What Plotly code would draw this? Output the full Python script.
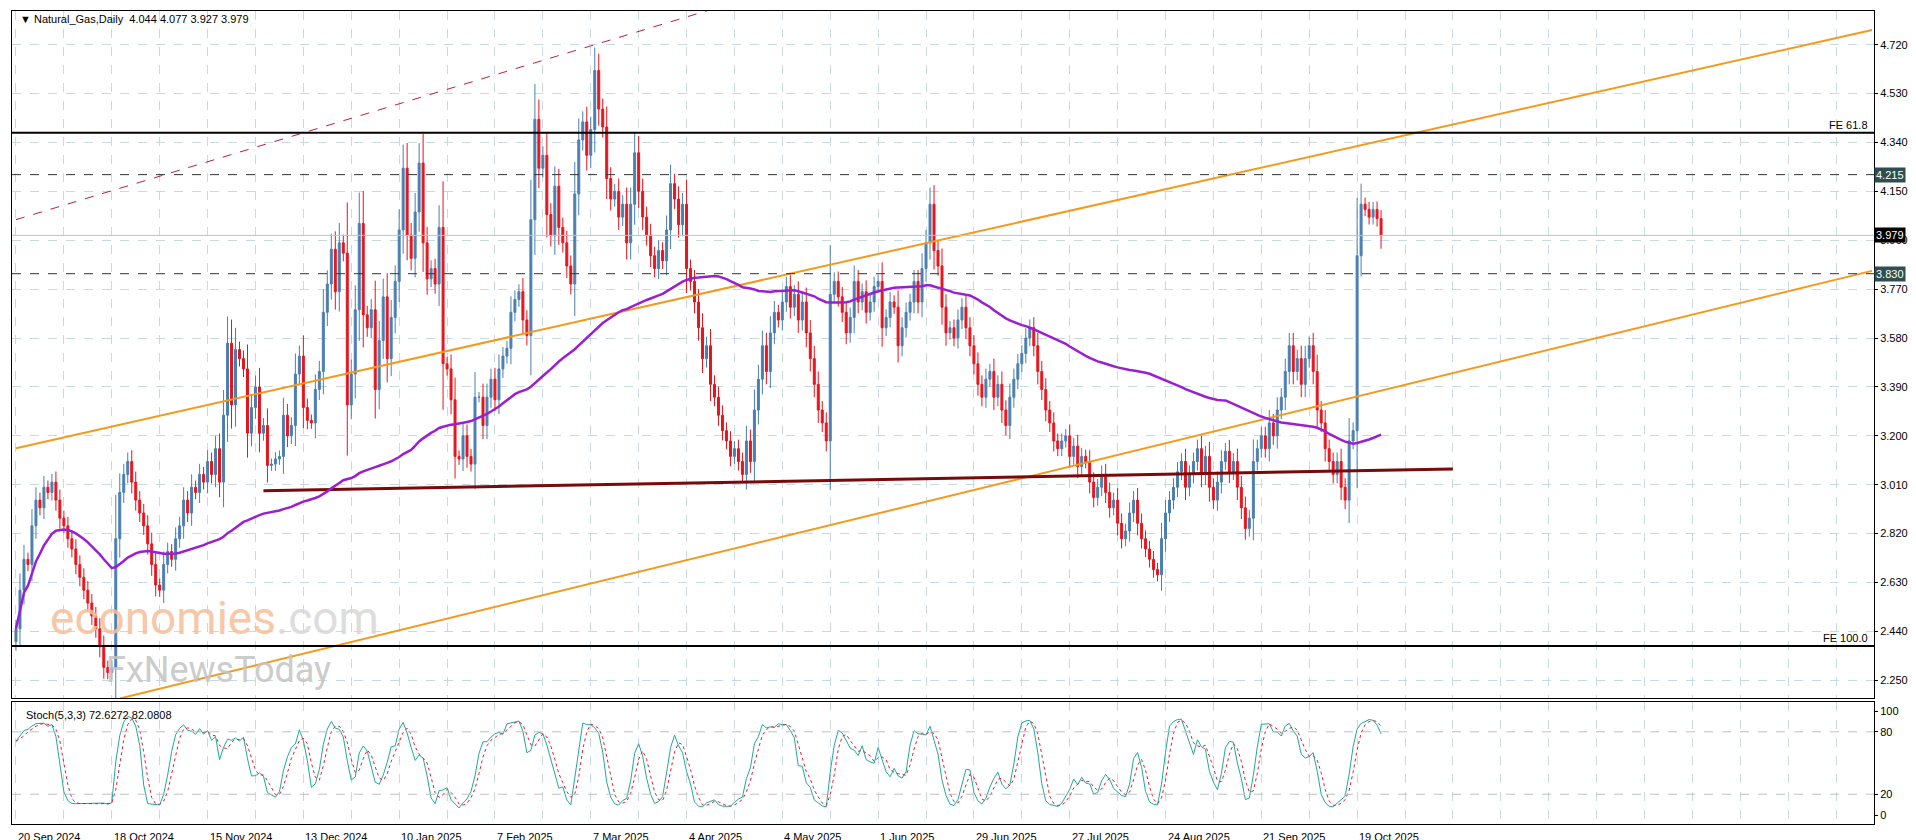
import pandas as pd
import plotly.graph_objects as go
from plotly.subplots import make_subplots

# daily closes (one per bar, Sunday bars included)
closes = [
    2.45, 2.60, 2.72, 2.70, 2.85, 2.95, 2.92, 3.00, 2.98, 3.02, 2.95, 2.88, 2.85,
    2.80, 2.76, 2.70, 2.65, 2.60, 2.55, 2.50, 2.45, 2.38, 2.30, 2.28, 2.30,
    2.80, 2.98, 3.05, 3.10, 3.02, 2.95, 2.90, 2.85, 2.78, 2.70, 2.62, 2.60, 2.70,
    2.75, 2.72, 2.80, 2.85, 2.95, 2.90, 3.00, 2.98, 3.05, 3.02, 3.10, 3.05, 3.15, 3.02,
    3.28, 3.56, 3.32, 3.535, 3.50, 3.46, 3.21, 3.31, 3.39, 3.21, 3.24, 3.085, 3.09,
    3.11, 3.12, 3.28, 3.20, 3.24, 3.44, 3.51, 3.31, 3.26, 3.25, 3.38, 3.45, 3.68,
    3.79, 3.925, 3.76, 3.95, 3.91, 3.32, 3.44, 3.69, 4.025, 3.67, 3.62, 3.69, 3.38,
    3.57, 3.74, 3.50, 3.66, 3.80, 4.00, 4.24,
    3.98, 3.89, 4.07, 4.26, 3.95, 3.81, 3.85, 3.79, 4.01, 3.48, 3.46, 3.34, 3.12,
    3.11, 3.20, 3.12, 3.09, 3.35, 3.35, 3.24, 3.35, 3.42, 3.34, 3.46, 3.51, 3.54,
    3.68, 3.73, 3.76, 3.65, 3.59, 4.04, 4.43, 4.24, 4.29, 4.06, 3.98, 4.17, 4.01,
    3.95, 3.86, 3.79, 4.14, 4.35, 4.42, 4.29, 4.39, 4.62, 4.47,
    4.40, 4.20, 4.12, 4.15, 4.05, 4.10, 3.95,
    4.10, 4.30, 4.15, 4.05, 3.98, 3.90, 3.85, 3.92, 3.88,
    4.00, 4.18, 4.12, 4.02, 4.10, 3.85, 3.80, 3.72,
    3.62, 3.50, 3.55, 3.40, 3.35, 3.28, 3.22, 3.18, 3.12,
    3.15, 3.10, 3.05, 3.18, 3.10, 3.30,
    3.42, 3.55, 3.45, 3.60, 3.68, 3.65, 3.72, 3.78, 3.70,
    3.75, 3.65, 3.72, 3.60, 3.50, 3.40, 3.30, 3.25, 3.18,
    3.75, 3.80, 3.74, 3.68, 3.60, 3.66, 3.80, 3.72, 3.76,
    3.68, 3.72, 3.78, 3.80, 3.62, 3.66, 3.72, 3.70, 3.55, 3.62, 3.68, 3.72,
    3.80, 3.72, 3.85, 3.95, 4.10, 3.92, 3.86, 3.70, 3.60,
    3.62, 3.58, 3.65, 3.70, 3.62, 3.55,
    3.48, 3.40, 3.35, 3.42, 3.45, 3.35, 3.40, 3.30, 3.24, 3.35, 3.42,
    3.48, 3.52, 3.58, 3.62, 3.55, 3.45, 3.38, 3.30, 3.25, 3.18, 3.15,
    3.18, 3.20, 3.12, 3.16, 3.08, 3.12, 3.10, 3.02, 2.96, 3.00, 3.05, 2.98,
    2.92, 2.95, 2.86, 2.80, 2.83, 2.90, 2.95, 2.86, 2.80, 2.76, 2.72, 2.68,
    2.66, 2.80, 2.90, 2.95, 3.00, 3.06, 3.10, 3.00, 3.05,
    3.10, 3.15, 3.05, 3.12, 3.00, 2.95, 3.02, 3.10, 3.14,
    3.06, 3.10, 3.00, 2.92, 2.84, 2.88, 3.10, 3.15, 3.20, 3.15,
    3.25, 3.20, 3.30, 3.35, 3.45, 3.55, 3.45, 3.50, 3.40,
    3.50, 3.55, 3.45, 3.30, 3.25, 3.15,
    3.10, 3.05, 3.10, 3.00, 2.95, 3.18,
    3.22, 3.90, 4.10, 4.08, 4.05, 4.08, 4.044, 3.979,
]
last_ohlc = [4.044, 4.077, 3.927, 3.979]

date_labels = ["20 Sep 2024", "18 Oct 2024", "15 Nov 2024", "13 Dec 2024", "10 Jan 2025",
               "7 Feb 2025", "7 Mar 2025", "4 Apr 2025", "4 May 2025", "1 Jun 2025",
               "29 Jun 2025", "27 Jul 2025", "24 Aug 2025", "21 Sep 2025", "19 Oct 2025"]
bars_per_label = 24

price_ticks = [2.25, 2.44, 2.63, 2.82, 3.01, 3.20, 3.39, 3.58, 3.77, 3.96, 4.15, 4.34, 4.53, 4.72]

# drawn objects: (bar, price) anchors
red_trend = [(0, 4.04), (145, 4.72)]
upper_channel = [(0, 3.152), (465, 4.777)]
lower_channel = [(26, 2.179), (465, 3.841)]
support_line = [(62, 2.986), (360, 3.071)]
fe_levels = {"FE 61.8": 4.378, "FE 100.0": 2.383}
dashed_levels = [4.215, 3.830]

n = len(closes)
df = pd.DataFrame({"close": closes})
df["open"] = df["close"].shift(1).fillna(closes[0] - 0.05)
body_hi = df[["open", "close"]].max(axis=1)
body_lo = df[["open", "close"]].min(axis=1)
rng = (df["close"] - df["open"]).abs()
df["high"] = body_hi + 0.3 * rng + 0.02
df["low"] = body_lo - 0.3 * rng - 0.02
df.loc[n - 1, ["open", "high", "low", "close"]] = last_ohlc
df["x"] = range(n)

ma = df["close"].rolling(100, min_periods=1).mean()

ll = df["low"].rolling(5, min_periods=1).min()
hh = df["high"].rolling(5, min_periods=1).max()
k = (df["close"] - ll).rolling(3, min_periods=1).sum() / (hh - ll).rolling(3, min_periods=1).sum() * 100
d = k.rolling(3, min_periods=1).mean()

x_max = 465.5
font = dict(family="Liberation Sans, DejaVu Sans", size=11, color="black")

fig = make_subplots(rows=2, cols=1, shared_xaxes=True, vertical_spacing=0.005)

fig.add_trace(go.Candlestick(x=df["x"], open=df["open"], high=df["high"], low=df["low"], close=df["close"],
                             increasing=dict(line=dict(color="#4a7fb0", width=1), fillcolor="#4a7fb0"),
                             decreasing=dict(line=dict(color="#e8141c", width=1), fillcolor="#e8141c"),
                             whiskerwidth=0, showlegend=False), row=1, col=1)

def seg(pts, color, width, dash="solid"):
    (x0, y0), (x1, y1) = pts
    fig.add_trace(go.Scatter(x=[x0, x1], y=[y0, y1], mode="lines", showlegend=False,
                             line=dict(color=color, width=width, dash=dash), hoverinfo="skip"), row=1, col=1)

# extend red trend to the top of the chart
(rx0, ry0), (rx1, ry1) = red_trend
slope = (ry1 - ry0) / (rx1 - rx0)
seg([(rx0, ry0), (rx0 + (4.9 - ry0) / slope, 4.9)], "#b5213a", 1, "dash")
seg(upper_channel, "#f39a1e", 2)
seg(lower_channel, "#f39a1e", 2)
seg(support_line, "#7a0a0a", 3)

fig.add_trace(go.Scatter(x=df["x"], y=ma, mode="lines", line=dict(color="#9a1fd0", width=2.5),
                         showlegend=False, hoverinfo="skip"), row=1, col=1)

for name, lvl in fe_levels.items():
    fig.add_hline(y=lvl, line=dict(color="black", width=2), row=1, col=1)
    fig.add_annotation(x=x_max - 1, y=lvl, text=name, showarrow=False, xanchor="right", yanchor="bottom",
                       font=font, row=1, col=1)
for lvl in dashed_levels:
    fig.add_hline(y=lvl, line=dict(color="#333333", width=1, dash="dash"), row=1, col=1)
    fig.add_annotation(x=1.0, xref="paper", y=lvl, yref="y", text="%.3f" % lvl, showarrow=False,
                       xanchor="left", bgcolor="#2f4f4f", font=dict(family=font["family"], size=11, color="white"))
fig.add_hline(y=last_ohlc[3], line=dict(color="#b0c8d8", width=1), row=1, col=1)
fig.add_annotation(x=1.0, xref="paper", y=last_ohlc[3], yref="y", text="%.3f" % last_ohlc[3], showarrow=False,
                   xanchor="left", bgcolor="black", font=dict(family=font["family"], size=11, color="white"))

# watermark
fig.add_annotation(x=8, y=2.49, text="<span style='color:#f5bf9a'>economies</span><span style='color:#d8d8d8'>.com</span>",
                   showarrow=False, xanchor="left", font=dict(family="Roboto", size=46), opacity=0.85, row=1, col=1)
fig.add_annotation(x=22, y=2.29, text="FxNewsToday", showarrow=False, xanchor="left",
                   font=dict(family="Roboto", size=36, color="#c4c4c4"), opacity=0.85, row=1, col=1)

fig.add_annotation(x=0.003, xref="paper", y=1.0, yref="paper", text="▼ Natural_Gas,Daily  4.044 4.077 3.927 3.979",
                   showarrow=False, xanchor="left", yanchor="top", font=font)

# stochastic
fig.add_trace(go.Scatter(x=df["x"], y=k, mode="lines", line=dict(color="#20a8a0", width=1),
                         showlegend=False, hoverinfo="skip"), row=2, col=1)
fig.add_trace(go.Scatter(x=df["x"], y=d, mode="lines", line=dict(color="#e0202a", width=1, dash="dot"),
                         showlegend=False, hoverinfo="skip"), row=2, col=1)
for lvl in [80, 20]:
    fig.add_hline(y=lvl, line=dict(color="#c0c0c0", width=1, dash="dash"), row=2, col=1)
fig.add_annotation(x=2, y=104, text="Stoch(5,3,3) 72.6272 82.0808", showarrow=False, xanchor="left",
                   yanchor="top", font=font, row=2, col=1)

tick_x = [i * bars_per_label for i in range(len(date_labels))]
for tx, lab in zip(tick_x, date_labels):
    fig.add_annotation(x=tx, xref="x2", y=-0.006, yref="paper", text=lab, showarrow=False,
                       xanchor="left", yanchor="top", font=font)

grid = dict(showgrid=True, gridcolor="#c9d9e0", griddash="dash", gridwidth=1)
axis_line = dict(showline=True, linecolor="black", linewidth=1, mirror=True, zeroline=False)
fig.update_xaxes(range=[-1, x_max], tickvals=[i * 12 for i in range(40)], showticklabels=False,
                 rangeslider_visible=False, **grid, **axis_line)
fig.update_yaxes(side="right", tickfont=font, ticks="outside", ticklen=3, tickcolor="black", **grid, **axis_line)
fig.update_yaxes(range=[2.181, 4.851], tickvals=price_ticks, tickformat=".3f", domain=[0.155, 1.0], row=1, col=1)
fig.update_yaxes(range=[-8.6, 108.6], tickvals=[0, 20, 80, 100], domain=[0.0, 0.150], showgrid=False, row=2, col=1)

fig.update_layout(width=1916, height=840, margin=dict(l=4, r=50, t=3, b=24),
                  plot_bgcolor="white", paper_bgcolor="white", font=font, hovermode=False)

fig.write_html("out.html")
